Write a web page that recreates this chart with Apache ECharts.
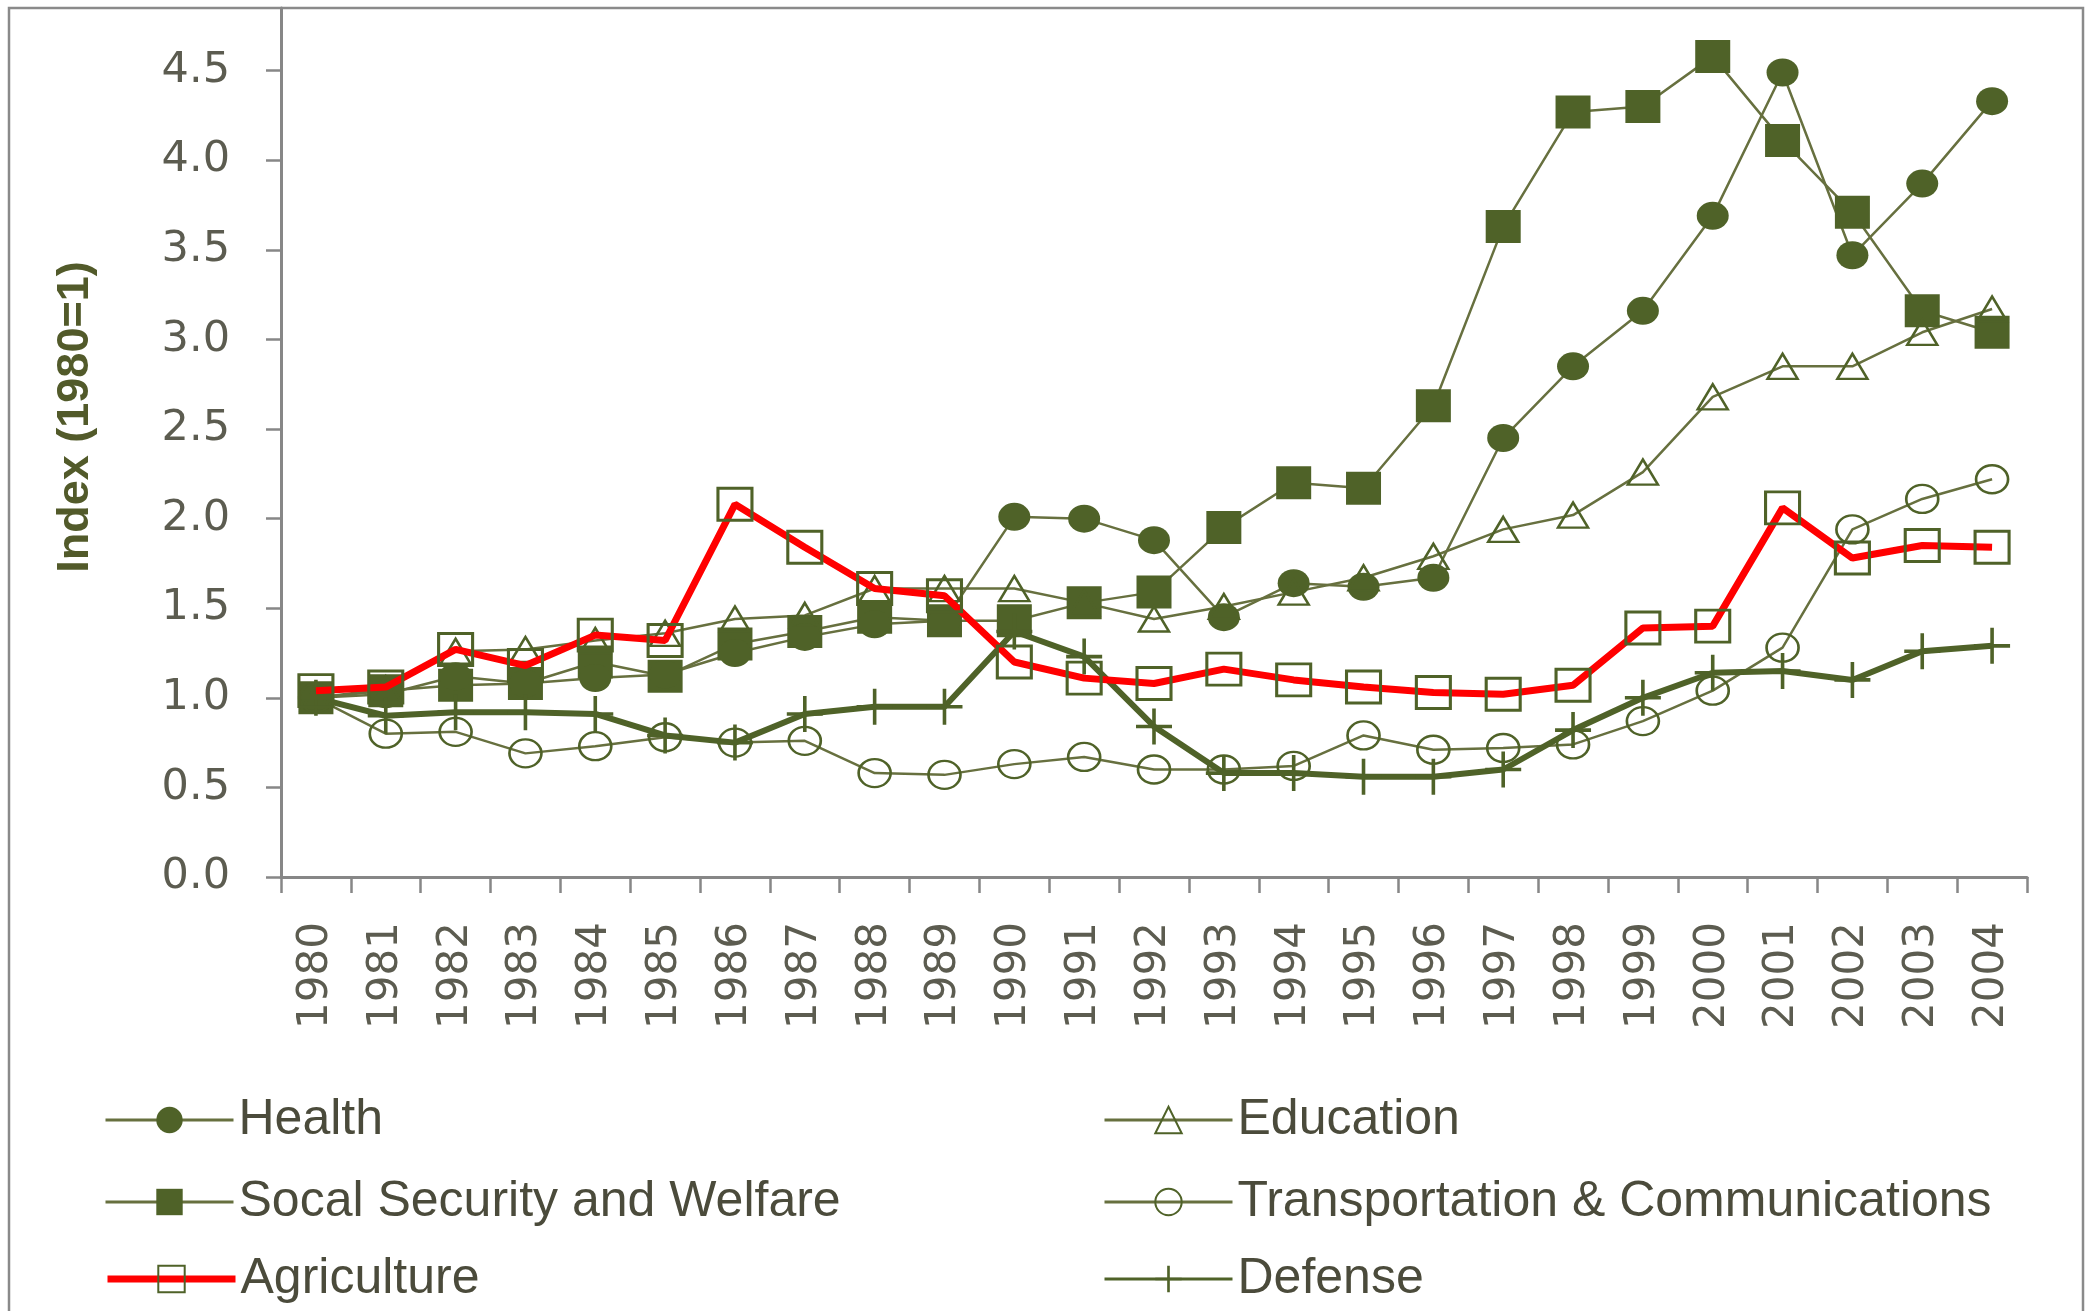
<!DOCTYPE html>
<html>
<head>
<meta charset="utf-8">
<script src="https://cdn.jsdelivr.net/npm/echarts@6/dist/echarts.min.js"></script>
<style>
html,body{margin:0;padding:0;background:#ffffff;}
#chart{width:2089px;height:1311px;}
</style>
</head>
<body>
<div id="chart"></div>
<script>
const years = ['1980','1981','1982','1983','1984','1985','1986','1987','1988','1989','1990','1991','1992','1993','1994','1995','1996','1997','1998','1999','2000','2001','2002','2003','2004'];
const health      = [1.00,1.02,1.12,1.08,1.11,1.13,1.25,1.34,1.41,1.43,2.01,2.00,1.88,1.45,1.64,1.62,1.67,2.45,2.85,3.16,3.69,4.49,3.47,3.87,4.33];
const education   = [1.00,1.05,1.26,1.27,1.32,1.36,1.44,1.46,1.61,1.61,1.61,1.53,1.44,1.51,1.59,1.67,1.79,1.94,2.02,2.26,2.68,2.85,2.85,3.04,3.17];
const socialSec   = [1.00,1.04,1.07,1.08,1.20,1.12,1.30,1.37,1.45,1.43,1.43,1.53,1.59,1.95,2.20,2.17,2.63,3.63,4.27,4.30,4.58,4.11,3.71,3.16,3.04];
const transport   = [1.00,0.80,0.81,0.69,0.73,0.78,0.75,0.76,0.58,0.57,0.63,0.67,0.60,0.60,0.62,0.79,0.71,0.72,0.74,0.87,1.04,1.28,1.94,2.11,2.22];
const agriculture = [1.04,1.06,1.27,1.18,1.35,1.32,2.08,1.84,1.61,1.57,1.20,1.11,1.08,1.16,1.10,1.06,1.03,1.02,1.07,1.39,1.40,2.06,1.78,1.85,1.84];
const defense     = [1.00,0.90,0.92,0.92,0.91,0.79,0.75,0.91,0.95,0.95,1.37,1.23,0.84,0.58,0.58,0.56,0.56,0.60,0.82,1.00,1.14,1.15,1.10,1.26,1.29];
const yTickLabels = ['0.0','0.5','1.0','1.5','2.0','2.5','3.0','3.5','4.0','4.5'];
const names = ['Health','Education','Socal Security and Welfare','Transportation & Communications','Agriculture','Defense'];

const OLIVE = '#4f6228';
const THIN = '#67703f';
const plusPath = 'path://M5.4,0 H6.6 V5.4 H12 V6.6 H6.6 V12 H5.4 V6.6 H0 V5.4 H5.4 Z';

const chart = echarts.init(document.getElementById('chart'), null, {renderer:'canvas'});

function leg(name, left, top, lw) {
  return {
    data: [name], left: left, top: top, orient: 'horizontal', padding: 0,
    itemWidth: 128, itemHeight: 33, selectedMode: false,
    textStyle: {fontFamily: 'Liberation Sans', fontSize: 50, color: '#4b4b3b'},
    lineStyle: {width: lw || 3}
  };
}

const option = {
  backgroundColor: '#ffffff',
  animation: false,
  grid: {left: 281, right: 62, top: 8, bottom: 434, containLabel: false},
  legend: [
    leg(names[0], 104, 1095),
    leg(names[1], 1103, 1095),
    leg(names[2], 104, 1177),
    leg(names[3], 1103, 1177),
    leg(names[4], 104, 1254, 7),
    leg(names[5], 1103, 1254)
  ],
  xAxis: {
    type: 'category', data: years, boundaryGap: true,
    axisLine: {show: true, lineStyle: {color: '#878787', width: 3}},
    axisTick: {show: true, length: 16, lineStyle: {color: '#878787', width: 2.5}},
    axisLabel: {rotate: 90, margin: 45, interval: 0, fontFamily: 'DejaVu Sans', fontSize: 42, color: '#5c5c50'},
    splitLine: {show: false}
  },
  yAxis: {
    type: 'value', min: 0, max: 4.85, interval: 0.5,
    axisLine: {show: true, lineStyle: {color: '#878787', width: 3}},
    axisTick: {show: true, length: 15, lineStyle: {color: '#878787', width: 2.5}},
    axisLabel: {
      margin: 51, showMaxLabel: false, fontFamily: 'DejaVu Sans', fontSize: 43, color: '#5c5c50',
      formatter: function (v) { const i = Math.round(v / 0.5); return Math.abs(v - i * 0.5) < 1e-6 ? yTickLabels[i] : ''; }
    },
    splitLine: {show: false}
  },
  graphic: [
    {type: 'rect', z: -10, silent: true, shape: {x: 9, y: 8, width: 2074, height: 1340},
     style: {fill: 'none', stroke: '#8a8a8a', lineWidth: 2.5}},
    {type: 'text', x: 76, y: 417, rotation: Math.PI / 2, silent: true,
     style: {text: 'Index (1980=1)', fontFamily: 'Liberation Sans', fontWeight: 'bold', fontSize: 45,
             fill: '#525a2a', align: 'center', verticalAlign: 'middle'}}
  ],
  series: [
    {name: names[2], type: 'line', data: socialSec, symbol: 'rect', symbolSize: [35, 33], z: 2,
     lineStyle: {color: THIN, width: 2.5}, itemStyle: {color: OLIVE}, emphasis: {disabled: true}},
    {name: names[0], type: 'line', data: health, symbol: 'circle', symbolSize: [32, 28], z: 2,
     lineStyle: {color: THIN, width: 2.5}, itemStyle: {color: OLIVE}, emphasis: {disabled: true}},
    {name: names[1], type: 'line', data: education, symbol: 'triangle', symbolSize: [30, 25], z: 2,
     lineStyle: {color: THIN, width: 2.5}, itemStyle: {color: 'rgba(255,255,255,0)', borderColor: OLIVE, borderWidth: 2.5}, emphasis: {disabled: true}},
    {name: names[3], type: 'line', data: transport, symbol: 'circle', symbolSize: [32, 28], z: 2,
     lineStyle: {color: THIN, width: 2.5}, itemStyle: {color: 'rgba(255,255,255,0)', borderColor: OLIVE, borderWidth: 2.5}, emphasis: {disabled: true}},
    {name: names[5], type: 'line', data: defense, symbol: plusPath, symbolSize: 36, z: 2,
     lineStyle: {color: OLIVE, width: 6}, itemStyle: {color: OLIVE}, emphasis: {disabled: true}},
    {name: names[4], type: 'line', data: agriculture, symbol: 'rect', symbolSize: [34, 32], z: 3,
     lineStyle: {color: '#ff0000', width: 7}, itemStyle: {color: 'rgba(255,255,255,0)', borderColor: OLIVE, borderWidth: 3}, emphasis: {disabled: true}}
  ]
};
chart.setOption(option);
</script>
</body>
</html>
